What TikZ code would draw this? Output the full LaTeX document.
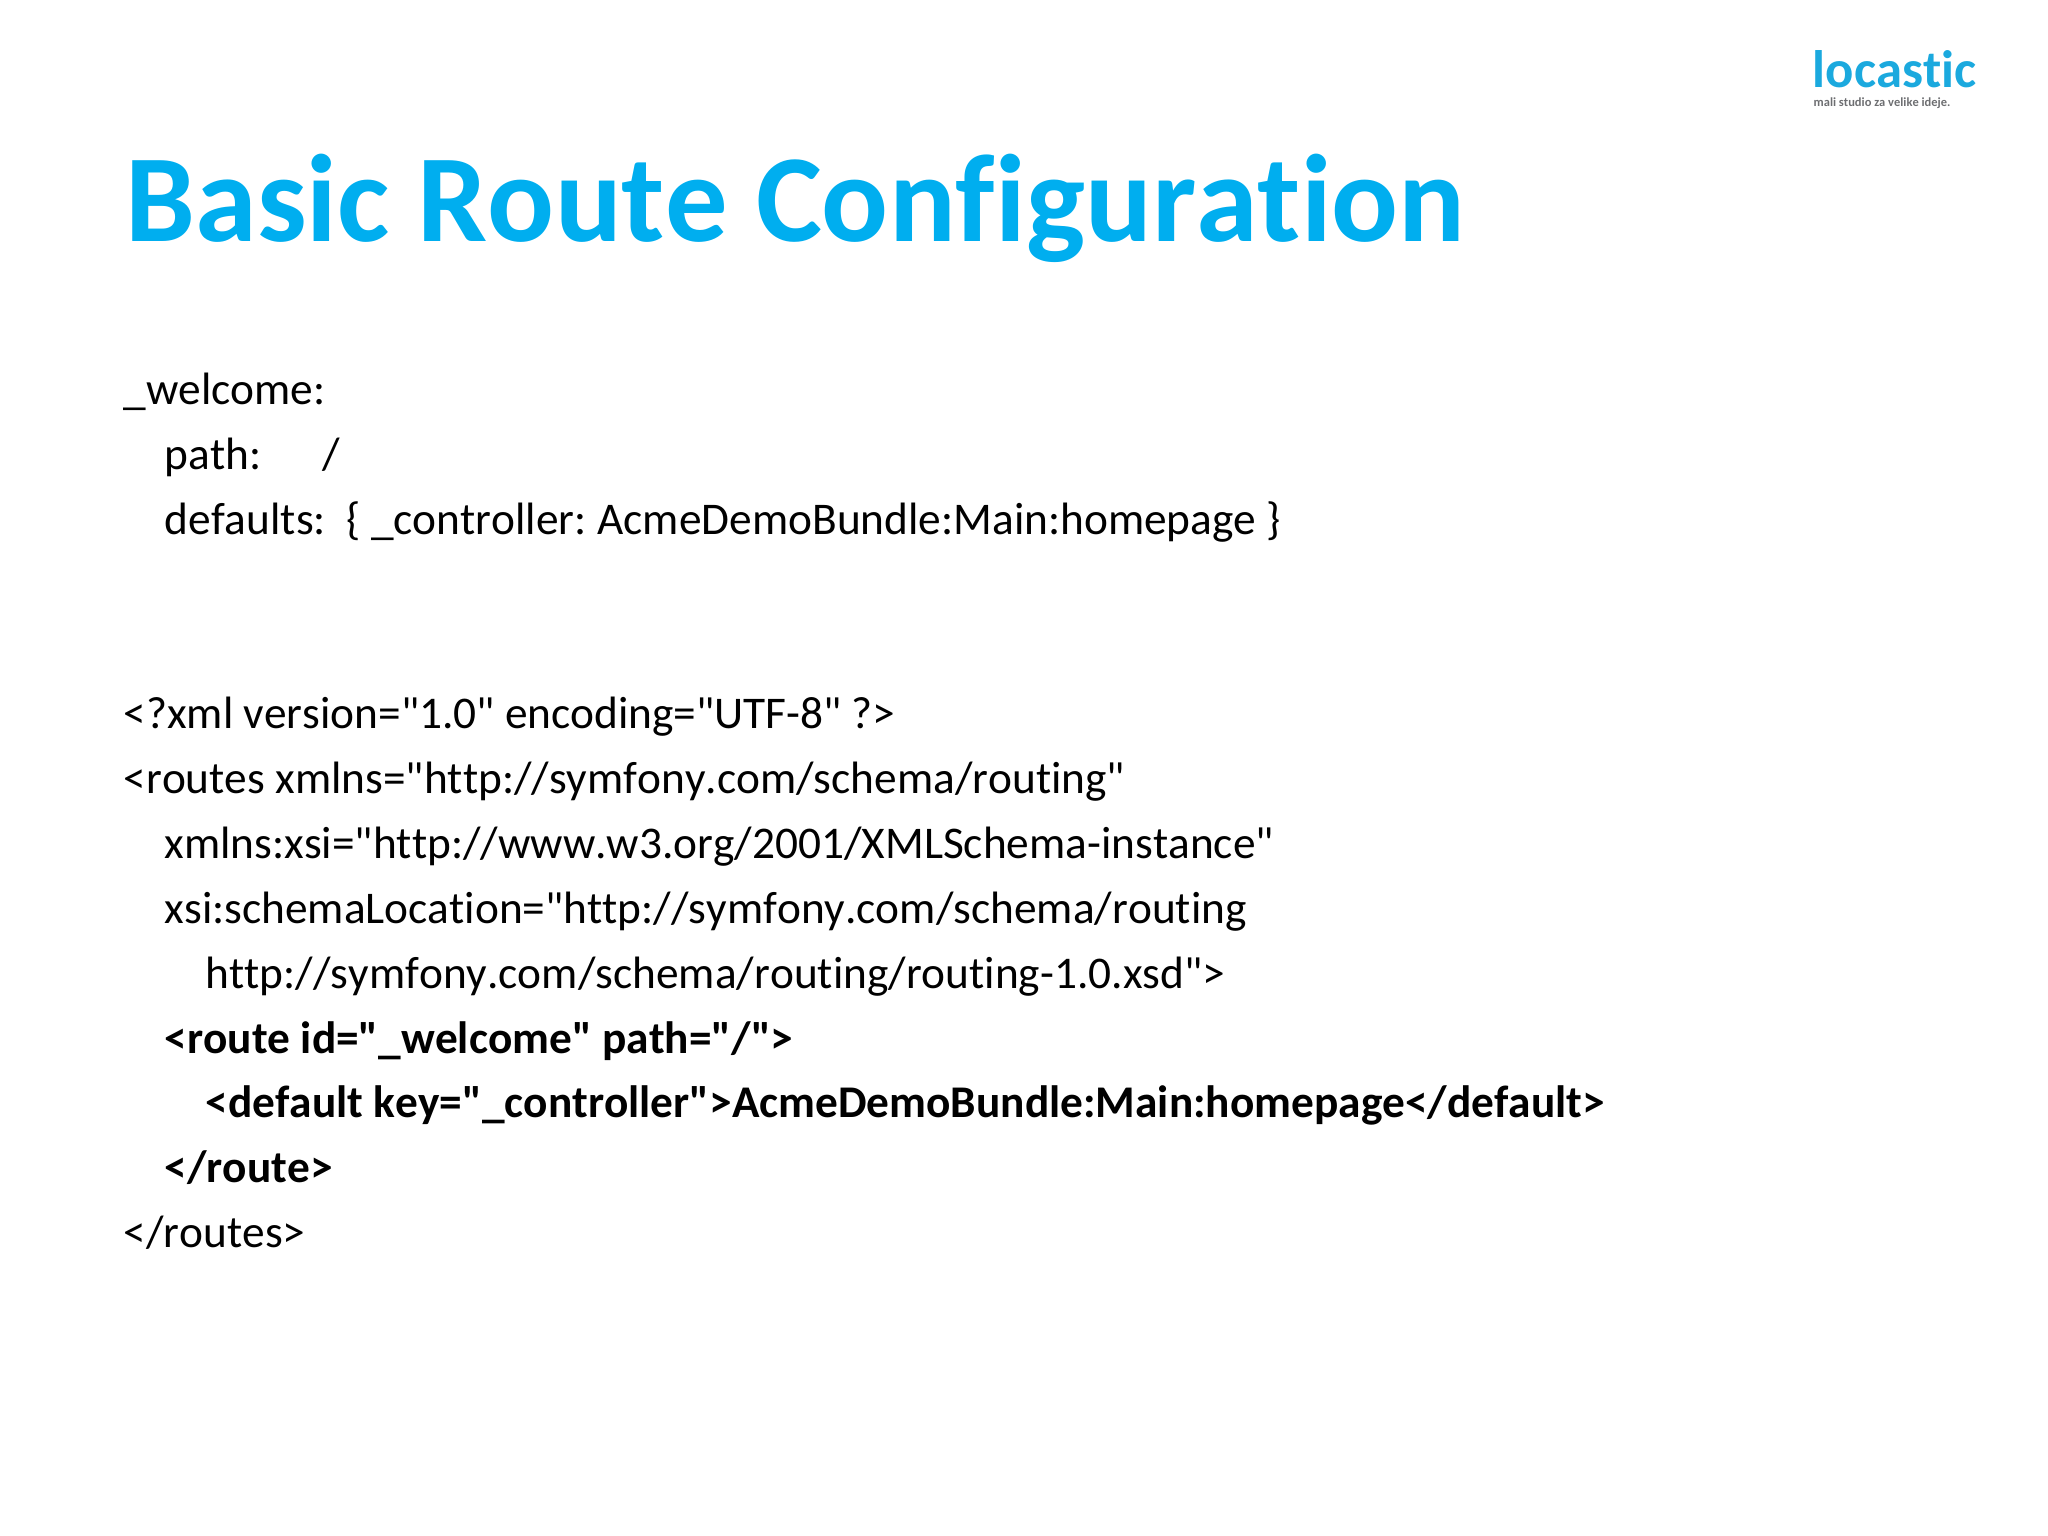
\documentclass[tikz,border=0pt]{standalone}
\usepackage{fontspec}
\setmainfont{Carlito}[Ligatures={TeXOff,NoCommon},Kerning=Off]
\definecolor{locblue}{HTML}{00AEEF}
\definecolor{logoblue}{HTML}{1BA9DE}
\definecolor{loggray}{HTML}{6D6E71}
\tikzset{
  codeline/.style = {anchor=base west, inner sep=0pt, font=\fontsize{12.9pt}{15pt}\selectfont},
  boldline/.style = {codeline, font=\fontsize{12.9pt}{15pt}\selectfont\bfseries},
}
\begin{document}
\begin{tikzpicture}
  \useasboundingbox (0,0) rectangle (20.48,-15.36);

  \node[anchor=base west, inner sep=0pt, text=locblue, font=\fontsize{35.46pt}{40pt}\selectfont\bfseries] (title) at (1.25,-2.42) {Basic Route Configuration};

  \node[anchor=base west, inner sep=0pt, text=logoblue, font=\fontsize{15pt}{17pt}\selectfont\bfseries] (logo) at (18.12,-0.875) {locastic};
  \node[anchor=base west, inner sep=0pt, text=loggray, font=\fontsize{3.55pt}{4pt}\selectfont\bfseries] (tagline) at (18.13,-1.065) {mali studio za velike ideje.};

  \node[codeline] (welcome) at (1.23,-4.05) {\_welcome:};
  \node[codeline] (path) at (1.64,-4.698) {path:\hspace{17.4pt}/};
  \node[codeline] (defaults) at (1.64,-5.346) {defaults:\hspace{2pt} \{ \_controller:\kern-0.8pt{} AcmeDemoBundle:Main:homepage \}};

  \node[codeline] (xmlhead) at (1.23,-7.29) {<?xml version="1.0" encoding="UTF-8" ?>};
  \node[codeline] (routes) at (1.23,-7.938) {<routes xmlns="http://symfony.com/schema/routing"};
  \node[codeline] (xmlns) at (1.64,-8.586) {xmlns:xsi="http://www.w3.org/2001/XMLSchema-instance"};
  \node[codeline] (schemaloc) at (1.64,-9.234) {xsi:schemaLocation="http://symfony.com/schema/routing};
  \node[codeline] (xsd) at (2.05,-9.882) {http://symfony.com/schema/routing/routing-1.0.xsd">};
  \node[boldline] (route) at (1.64,-10.53) {<route id="\_welcome" path="/">};
  \node[boldline] (default) at (2.05,-11.178) {<default key="\_controller">AcmeDemoBundle:Main:homepage</default>};
  \node[boldline] (routeend) at (1.64,-11.826) {</route>};
  \node[codeline] (routesend) at (1.23,-12.474) {</routes>};
\end{tikzpicture}
\end{document}
